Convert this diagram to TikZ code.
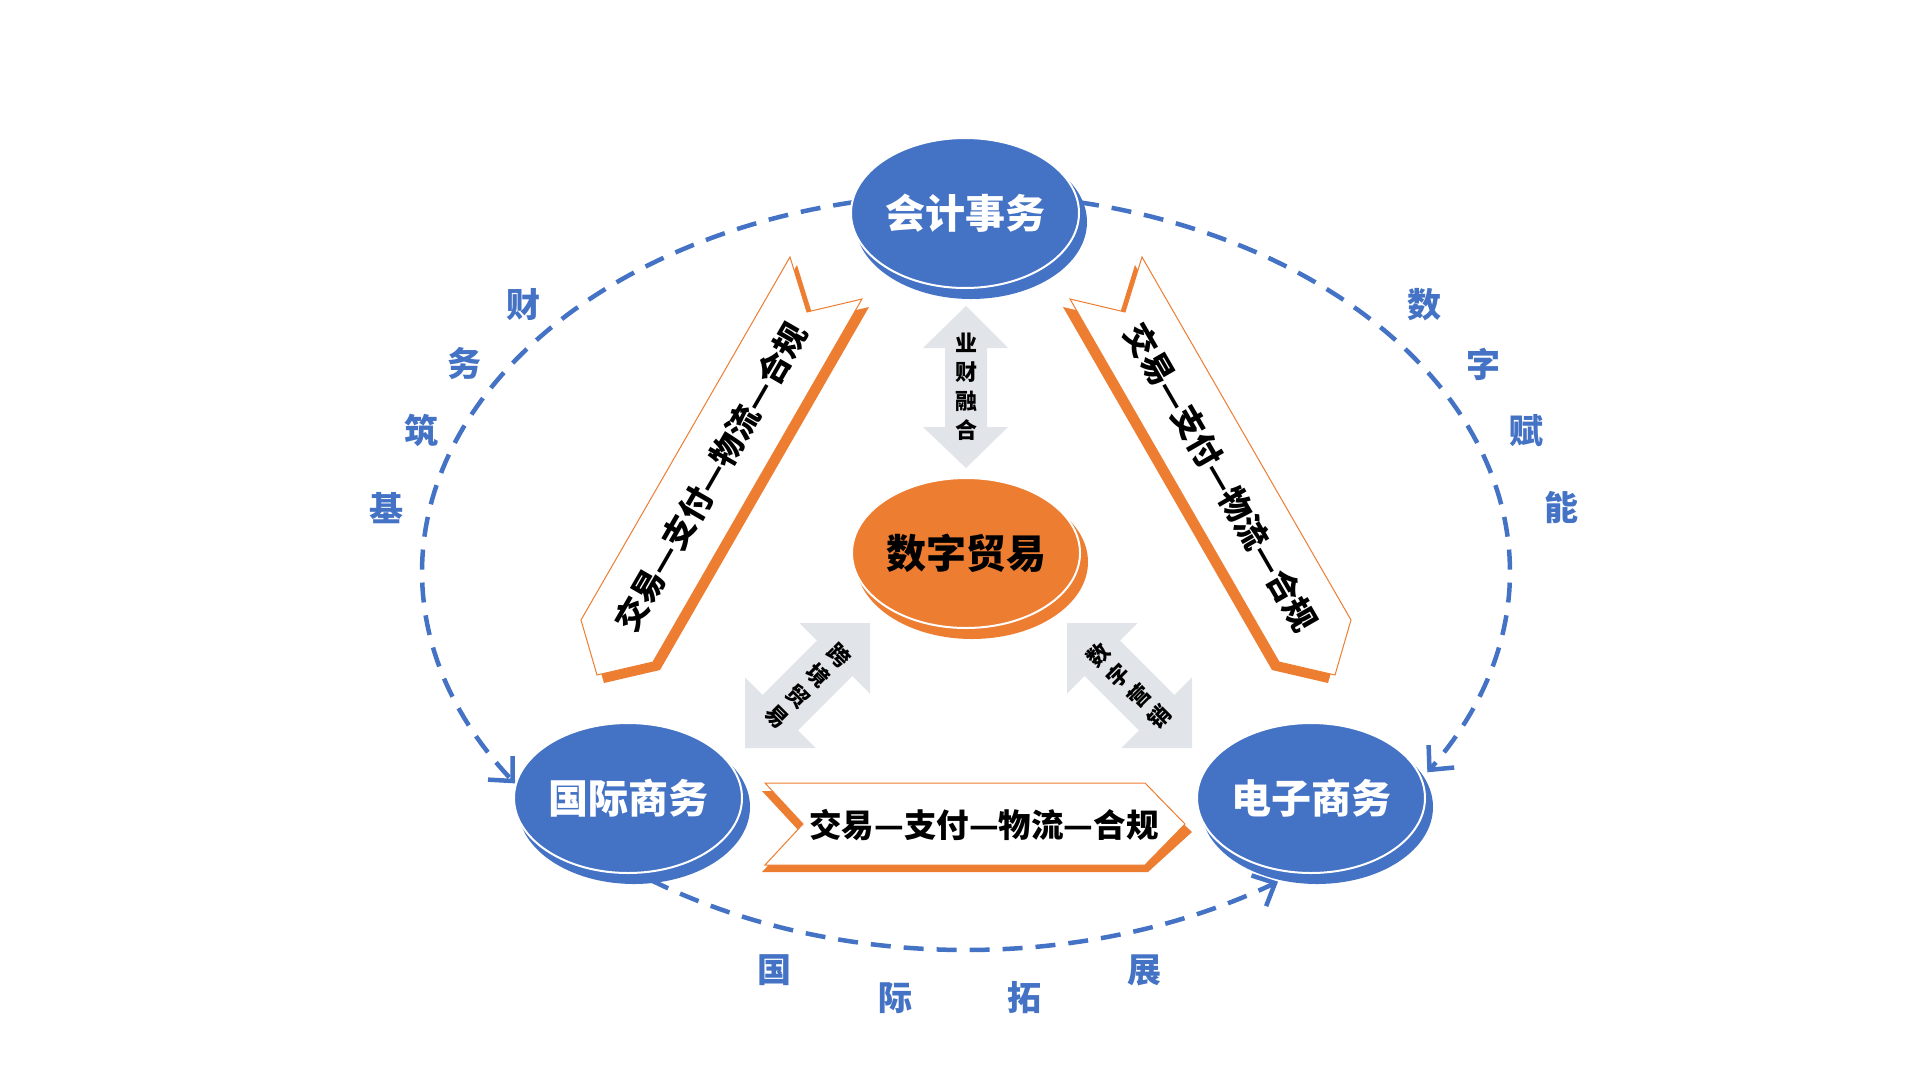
\documentclass[tikz,border=0pt]{standalone}
\usepackage{fontspec}
\setmainfont{Noto Sans CJK SC}
\usetikzlibrary{arrows.meta,shapes.geometric}
\definecolor{cblue}{HTML}{4472C4}
\definecolor{corange}{HTML}{ED7D31}
\definecolor{cgray}{HTML}{E1E4E8}
\begin{document}
\begin{tikzpicture}[x=1pt,y=-1pt,
  ellbase/.style={ellipse, minimum width=228pt, minimum height=150pt, inner sep=0pt, draw=white, line width=2pt, font=\bfseries\fontsize{40pt}{40pt}\selectfont},
  bluenode/.style={ellbase, fill=cblue, text=white},
  orangenode/.style={ellbase, fill=corange, text=black},
  ribbontext/.style={font=\bfseries\fontsize{32.5pt}{32.5pt}\selectfont, text=black, inner sep=0pt},
  ribbonwhite/.style={fill=white, draw=corange, line width=1pt, line join=miter},
  ribbonshade/.style={fill=corange},
  graytext/.style={font=\bfseries\fontsize{22pt}{29pt}\selectfont, align=center, inner sep=0pt, text=black},
  lab/.style={font=\bfseries\fontsize{34pt}{34pt}\selectfont, text=cblue, inner sep=0pt},
  looparc/.style={draw=cblue, line width=4.5pt, dash pattern=on 20pt off 13pt, -{Straight Barb[length=18pt,width=34pt]}}
]
\fill[white] (0,0) rectangle (1920,1080);
\useasboundingbox (0,0) rectangle (1920,1080);

% dashed loop arcs
\draw[looparc] plot[domain=258:146, samples=100, variable=\t] ({966+544*cos(\t)},{572+378*sin(\t)});
\draw[looparc] plot[domain=-78:32, samples=100, variable=\t] ({966+544*cos(\t)},{572+378*sin(\t)});
\draw[looparc] plot[domain=125.5:55, samples=100, variable=\t] ({966+544*cos(\t)},{572+378*sin(\t)});

% left ribbon
\fill[ribbonshade] (797,265) -- (588,628) -- (604,683) -- (660,670) -- (869,307) -- (814,320) -- cycle;
\draw[ribbonwhite] (790,257) -- (581,620) -- (597,675) -- (653,662) -- (862,299) -- (807,312) -- cycle;
\node[ribbontext, rotate=60] (rl) at (711,477) {交易—支付—物流—合规};

% right ribbon
\fill[ribbonshade] (1135,265) -- (1344,628) -- (1328,683) -- (1272,670) -- (1063,307) -- (1118,320) -- cycle;
\draw[ribbonwhite] (1142,257) -- (1351,620) -- (1335,675) -- (1279,662) -- (1070,299) -- (1125,312) -- cycle;
\node[ribbontext, rotate=-60] (rr) at (1221,477) {交易—支付—物流—合规};

% bottom ribbon
\fill[ribbonshade] (762,791) -- (1148,791) -- (1192,832) -- (1148,872) -- (762,872) -- (800,832) -- cycle;
\draw[ribbonwhite] (765,783) -- (1145,783) -- (1185,824) -- (1145,865) -- (765,865) -- (803,824) -- cycle;
\node[ribbontext] (rb) at (984,825) {交易—支付—物流—合规};

% gray double arrows
\fill[cgray] (966,306) -- (1008,348) -- (987,348) -- (987,427) -- (1008,427) -- (966,468) -- (923,427) -- (945,427) -- (945,348) -- (923,348) -- cycle;
\node[graytext] (g1) at (966,387) {业\\财\\融\\合};

\fill[cgray] (870,623) -- (870,693.7) -- (852.3,676) -- (798,730.3) -- (815.7,748) -- (745,748) -- (745,677.3) -- (762.7,695) -- (817,640.7) -- (799.3,623) -- cycle;
\node[graytext, rotate=-45] (g2) at (808,686) {跨\\境\\贸\\易};

\fill[cgray] (1067,623) -- (1067,693.7) -- (1084.7,676) -- (1139,730.3) -- (1121.3,748) -- (1192,748) -- (1192,677.3) -- (1174.3,695) -- (1120,640.7) -- (1137.7,623) -- cycle;
\node[graytext, rotate=45] (g3) at (1129,686) {数\\字\\营\\销};

% ellipses with back copies
\fill[cblue] (971,222) ellipse (116pt and 77pt);
\node[bluenode] (kj) at (965,213) {会计事务};
\fill[corange] (972,562) ellipse (116pt and 77pt);
\node[orangenode] (sz) at (966,553) {数字贸易};
\fill[cblue] (634,807) ellipse (116pt and 77pt);
\node[bluenode] (gj) at (628,798) {国际商务};
\fill[cblue] (1317,807) ellipse (116pt and 77pt);
\node[bluenode] (dz) at (1311,798) {电子商务};

% labels along loop
\node[lab] (a1) at (523,305) {财};
\node[lab] (a2) at (464,364) {务};
\node[lab] (a3) at (421,430) {筑};
\node[lab] (a4) at (386,508) {基};
\node[lab] (b1) at (1424,305) {数};
\node[lab] (b2) at (1483,364) {字};
\node[lab] (b3) at (1526,431) {赋};
\node[lab] (b4) at (1561,508) {能};
\node[lab] (c1) at (774,970) {国};
\node[lab] (c2) at (895,998) {际};
\node[lab] (c3) at (1024,998) {拓};
\node[lab] (c4) at (1144,970) {展};
\end{tikzpicture}
\end{document}
